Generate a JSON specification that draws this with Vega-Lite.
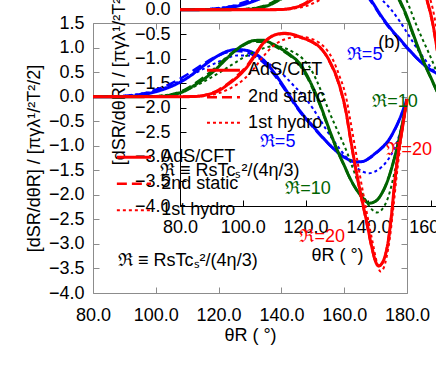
{
  "$schema": "https://vega.github.io/schema/vega-lite/v6.json",
  "width": 314,
  "height": 270,
  "autosize": {"type": "none"},
  "padding": {"left": 93, "top": 23, "right": 29, "bottom": 81},
  "background": "white",
  "config": {
    "font": "Liberation Sans",
    "view": {"stroke": null},
    "axis": {"grid": false, "labelFontSize": 18, "titleFontSize": 18, "titleFontWeight": "normal", "labelColor": "#000000", "titleColor": "#000000", "labelFlush": false, "labelOverlap": false, "tickWidth": 1, "domainWidth": 1},
    "text": {"fontSize": 18}
  },
  "datasets": {
    "curves": [
      {"R":"5","m":"AdS/CFT","t":80,"v":0},{"R":"5","m":"AdS/CFT","t":85,"v":0},{"R":"5","m":"AdS/CFT","t":90,"v":0.005},{"R":"5","m":"AdS/CFT","t":95,"v":0.03},{"R":"5","m":"AdS/CFT","t":100,"v":0.10},{"R":"5","m":"AdS/CFT","t":105,"v":0.21},{"R":"5","m":"AdS/CFT","t":110,"v":0.38},{"R":"5","m":"AdS/CFT","t":115,"v":0.62},{"R":"5","m":"AdS/CFT","t":120,"v":0.84},{"R":"5","m":"AdS/CFT","t":123,"v":0.93},{"R":"5","m":"AdS/CFT","t":126,"v":0.96},{"R":"5","m":"AdS/CFT","t":129,"v":0.94},{"R":"5","m":"AdS/CFT","t":132,"v":0.86},{"R":"5","m":"AdS/CFT","t":135,"v":0.70},{"R":"5","m":"AdS/CFT","t":138,"v":0.46},{"R":"5","m":"AdS/CFT","t":141,"v":0.18},{"R":"5","m":"AdS/CFT","t":144,"v":-0.12},{"R":"5","m":"AdS/CFT","t":147,"v":-0.38},{"R":"5","m":"AdS/CFT","t":150,"v":-0.60},{"R":"5","m":"AdS/CFT","t":153,"v":-0.82},{"R":"5","m":"AdS/CFT","t":156,"v":-1.02},{"R":"5","m":"AdS/CFT","t":159,"v":-1.19},{"R":"5","m":"AdS/CFT","t":162,"v":-1.30},{"R":"5","m":"AdS/CFT","t":164,"v":-1.33},{"R":"5","m":"AdS/CFT","t":166,"v":-1.32},{"R":"5","m":"AdS/CFT","t":168,"v":-1.25},{"R":"5","m":"AdS/CFT","t":170,"v":-1.15},{"R":"5","m":"AdS/CFT","t":172,"v":-1.04},{"R":"5","m":"AdS/CFT","t":174,"v":-0.90},{"R":"5","m":"AdS/CFT","t":176,"v":-0.68},{"R":"5","m":"AdS/CFT","t":178,"v":-0.40},{"R":"5","m":"AdS/CFT","t":180,"v":-0.05},
      {"R":"5","m":"2nd static","t":80,"v":0},{"R":"5","m":"2nd static","t":85,"v":0.005},{"R":"5","m":"2nd static","t":90,"v":0.015},{"R":"5","m":"2nd static","t":95,"v":0.05},{"R":"5","m":"2nd static","t":100,"v":0.14},{"R":"5","m":"2nd static","t":105,"v":0.27},{"R":"5","m":"2nd static","t":110,"v":0.45},{"R":"5","m":"2nd static","t":115,"v":0.66},{"R":"5","m":"2nd static","t":120,"v":0.84},{"R":"5","m":"2nd static","t":123,"v":0.91},{"R":"5","m":"2nd static","t":126,"v":0.93},{"R":"5","m":"2nd static","t":129,"v":0.90},{"R":"5","m":"2nd static","t":132,"v":0.81},{"R":"5","m":"2nd static","t":135,"v":0.65},{"R":"5","m":"2nd static","t":138,"v":0.42},{"R":"5","m":"2nd static","t":141,"v":0.15},{"R":"5","m":"2nd static","t":144,"v":-0.14},{"R":"5","m":"2nd static","t":147,"v":-0.40},{"R":"5","m":"2nd static","t":150,"v":-0.62},{"R":"5","m":"2nd static","t":153,"v":-0.83},{"R":"5","m":"2nd static","t":156,"v":-1.03},{"R":"5","m":"2nd static","t":159,"v":-1.19},{"R":"5","m":"2nd static","t":162,"v":-1.30},{"R":"5","m":"2nd static","t":164,"v":-1.33},{"R":"5","m":"2nd static","t":166,"v":-1.32},{"R":"5","m":"2nd static","t":168,"v":-1.26},{"R":"5","m":"2nd static","t":170,"v":-1.16},{"R":"5","m":"2nd static","t":172,"v":-1.05},{"R":"5","m":"2nd static","t":174,"v":-0.91},{"R":"5","m":"2nd static","t":176,"v":-0.69},{"R":"5","m":"2nd static","t":178,"v":-0.41},{"R":"5","m":"2nd static","t":180,"v":-0.05},
      {"R":"5","m":"1st hydro","t":80,"v":0},{"R":"5","m":"1st hydro","t":85,"v":0.005},{"R":"5","m":"1st hydro","t":90,"v":0.02},{"R":"5","m":"1st hydro","t":95,"v":0.06},{"R":"5","m":"1st hydro","t":100,"v":0.12},{"R":"5","m":"1st hydro","t":105,"v":0.24},{"R":"5","m":"1st hydro","t":110,"v":0.39},{"R":"5","m":"1st hydro","t":115,"v":0.56},{"R":"5","m":"1st hydro","t":120,"v":0.71},{"R":"5","m":"1st hydro","t":123,"v":0.79},{"R":"5","m":"1st hydro","t":126,"v":0.84},{"R":"5","m":"1st hydro","t":129,"v":0.84},{"R":"5","m":"1st hydro","t":132,"v":0.80},{"R":"5","m":"1st hydro","t":135,"v":0.71},{"R":"5","m":"1st hydro","t":138,"v":0.58},{"R":"5","m":"1st hydro","t":141,"v":0.42},{"R":"5","m":"1st hydro","t":144,"v":0.22},{"R":"5","m":"1st hydro","t":147,"v":0.02},{"R":"5","m":"1st hydro","t":150,"v":-0.24},{"R":"5","m":"1st hydro","t":153,"v":-0.54},{"R":"5","m":"1st hydro","t":156,"v":-0.84},{"R":"5","m":"1st hydro","t":159,"v":-1.10},{"R":"5","m":"1st hydro","t":162,"v":-1.33},{"R":"5","m":"1st hydro","t":164,"v":-1.45},{"R":"5","m":"1st hydro","t":166,"v":-1.53},{"R":"5","m":"1st hydro","t":168,"v":-1.56},{"R":"5","m":"1st hydro","t":170,"v":-1.52},{"R":"5","m":"1st hydro","t":172,"v":-1.43},{"R":"5","m":"1st hydro","t":174,"v":-1.28},{"R":"5","m":"1st hydro","t":176,"v":-1.05},{"R":"5","m":"1st hydro","t":178,"v":-0.68},{"R":"5","m":"1st hydro","t":180,"v":-0.08},
      {"R":"10","m":"AdS/CFT","t":80,"v":0},{"R":"10","m":"AdS/CFT","t":95,"v":0},{"R":"10","m":"AdS/CFT","t":100,"v":0.003},{"R":"10","m":"AdS/CFT","t":104,"v":0.015},{"R":"10","m":"AdS/CFT","t":107,"v":0.06},{"R":"10","m":"AdS/CFT","t":110,"v":0.14},{"R":"10","m":"AdS/CFT","t":113,"v":0.26},{"R":"10","m":"AdS/CFT","t":116,"v":0.39},{"R":"10","m":"AdS/CFT","t":119,"v":0.55},{"R":"10","m":"AdS/CFT","t":122,"v":0.74},{"R":"10","m":"AdS/CFT","t":125,"v":0.92},{"R":"10","m":"AdS/CFT","t":128,"v":1.06},{"R":"10","m":"AdS/CFT","t":131,"v":1.14},{"R":"10","m":"AdS/CFT","t":134,"v":1.15},{"R":"10","m":"AdS/CFT","t":137,"v":1.08},{"R":"10","m":"AdS/CFT","t":140,"v":0.97},{"R":"10","m":"AdS/CFT","t":143,"v":0.84},{"R":"10","m":"AdS/CFT","t":146,"v":0.66},{"R":"10","m":"AdS/CFT","t":148,"v":0.45},{"R":"10","m":"AdS/CFT","t":150,"v":0.19},{"R":"10","m":"AdS/CFT","t":152,"v":-0.10},{"R":"10","m":"AdS/CFT","t":154,"v":-0.45},{"R":"10","m":"AdS/CFT","t":156,"v":-0.80},{"R":"10","m":"AdS/CFT","t":158,"v":-1.12},{"R":"10","m":"AdS/CFT","t":160,"v":-1.40},{"R":"10","m":"AdS/CFT","t":162,"v":-1.68},{"R":"10","m":"AdS/CFT","t":164,"v":-1.90},{"R":"10","m":"AdS/CFT","t":166,"v":-2.07},{"R":"10","m":"AdS/CFT","t":168,"v":-2.17},{"R":"10","m":"AdS/CFT","t":170,"v":-2.13},{"R":"10","m":"AdS/CFT","t":172,"v":-1.97},{"R":"10","m":"AdS/CFT","t":174,"v":-1.68},{"R":"10","m":"AdS/CFT","t":176,"v":-1.25},{"R":"10","m":"AdS/CFT","t":178,"v":-0.72},{"R":"10","m":"AdS/CFT","t":180,"v":-0.05},
      {"R":"10","m":"2nd static","t":80,"v":0},{"R":"10","m":"2nd static","t":95,"v":0.002},{"R":"10","m":"2nd static","t":100,"v":0.008},{"R":"10","m":"2nd static","t":104,"v":0.03},{"R":"10","m":"2nd static","t":107,"v":0.08},{"R":"10","m":"2nd static","t":110,"v":0.17},{"R":"10","m":"2nd static","t":113,"v":0.29},{"R":"10","m":"2nd static","t":116,"v":0.43},{"R":"10","m":"2nd static","t":119,"v":0.59},{"R":"10","m":"2nd static","t":122,"v":0.77},{"R":"10","m":"2nd static","t":125,"v":0.93},{"R":"10","m":"2nd static","t":128,"v":1.05},{"R":"10","m":"2nd static","t":131,"v":1.12},{"R":"10","m":"2nd static","t":134,"v":1.12},{"R":"10","m":"2nd static","t":137,"v":1.06},{"R":"10","m":"2nd static","t":140,"v":0.95},{"R":"10","m":"2nd static","t":143,"v":0.82},{"R":"10","m":"2nd static","t":146,"v":0.63},{"R":"10","m":"2nd static","t":148,"v":0.42},{"R":"10","m":"2nd static","t":150,"v":0.16},{"R":"10","m":"2nd static","t":152,"v":-0.13},{"R":"10","m":"2nd static","t":154,"v":-0.47},{"R":"10","m":"2nd static","t":156,"v":-0.82},{"R":"10","m":"2nd static","t":158,"v":-1.13},{"R":"10","m":"2nd static","t":160,"v":-1.41},{"R":"10","m":"2nd static","t":162,"v":-1.69},{"R":"10","m":"2nd static","t":164,"v":-1.91},{"R":"10","m":"2nd static","t":166,"v":-2.08},{"R":"10","m":"2nd static","t":168,"v":-2.17},{"R":"10","m":"2nd static","t":170,"v":-2.13},{"R":"10","m":"2nd static","t":172,"v":-1.97},{"R":"10","m":"2nd static","t":174,"v":-1.68},{"R":"10","m":"2nd static","t":176,"v":-1.25},{"R":"10","m":"2nd static","t":178,"v":-0.72},{"R":"10","m":"2nd static","t":180,"v":-0.05},
      {"R":"10","m":"1st hydro","t":80,"v":0},{"R":"10","m":"1st hydro","t":95,"v":0.003},{"R":"10","m":"1st hydro","t":100,"v":0.012},{"R":"10","m":"1st hydro","t":104,"v":0.04},{"R":"10","m":"1st hydro","t":108,"v":0.10},{"R":"10","m":"1st hydro","t":112,"v":0.20},{"R":"10","m":"1st hydro","t":116,"v":0.33},{"R":"10","m":"1st hydro","t":120,"v":0.48},{"R":"10","m":"1st hydro","t":124,"v":0.64},{"R":"10","m":"1st hydro","t":128,"v":0.80},{"R":"10","m":"1st hydro","t":132,"v":0.93},{"R":"10","m":"1st hydro","t":135,"v":1.00},{"R":"10","m":"1st hydro","t":138,"v":1.03},{"R":"10","m":"1st hydro","t":141,"v":0.99},{"R":"10","m":"1st hydro","t":144,"v":0.90},{"R":"10","m":"1st hydro","t":147,"v":0.76},{"R":"10","m":"1st hydro","t":149,"v":0.60},{"R":"10","m":"1st hydro","t":151,"v":0.36},{"R":"10","m":"1st hydro","t":153,"v":0.06},{"R":"10","m":"1st hydro","t":155,"v":-0.27},{"R":"10","m":"1st hydro","t":157,"v":-0.57},{"R":"10","m":"1st hydro","t":159,"v":-0.85},{"R":"10","m":"1st hydro","t":161,"v":-1.15},{"R":"10","m":"1st hydro","t":163,"v":-1.50},{"R":"10","m":"1st hydro","t":165,"v":-1.85},{"R":"10","m":"1st hydro","t":167,"v":-2.13},{"R":"10","m":"1st hydro","t":169,"v":-2.31},{"R":"10","m":"1st hydro","t":170.5,"v":-2.36},{"R":"10","m":"1st hydro","t":172,"v":-2.30},{"R":"10","m":"1st hydro","t":174,"v":-2.05},{"R":"10","m":"1st hydro","t":176,"v":-1.55},{"R":"10","m":"1st hydro","t":178,"v":-0.88},{"R":"10","m":"1st hydro","t":180,"v":-0.06},
      {"R":"20","m":"AdS/CFT","t":80,"v":0},{"R":"20","m":"AdS/CFT","t":110,"v":0},{"R":"20","m":"AdS/CFT","t":114,"v":0.01},{"R":"20","m":"AdS/CFT","t":117,"v":0.05},{"R":"20","m":"AdS/CFT","t":120,"v":0.12},{"R":"20","m":"AdS/CFT","t":123,"v":0.25},{"R":"20","m":"AdS/CFT","t":126,"v":0.40},{"R":"20","m":"AdS/CFT","t":129,"v":0.60},{"R":"20","m":"AdS/CFT","t":132,"v":0.88},{"R":"20","m":"AdS/CFT","t":134,"v":1.07},{"R":"20","m":"AdS/CFT","t":136,"v":1.19},{"R":"20","m":"AdS/CFT","t":138,"v":1.26},{"R":"20","m":"AdS/CFT","t":141,"v":1.29},{"R":"20","m":"AdS/CFT","t":144,"v":1.26},{"R":"20","m":"AdS/CFT","t":147,"v":1.19},{"R":"20","m":"AdS/CFT","t":150,"v":1.11},{"R":"20","m":"AdS/CFT","t":152,"v":1.02},{"R":"20","m":"AdS/CFT","t":154,"v":0.87},{"R":"20","m":"AdS/CFT","t":156,"v":0.64},{"R":"20","m":"AdS/CFT","t":157.5,"v":0.42},{"R":"20","m":"AdS/CFT","t":159,"v":0.12},{"R":"20","m":"AdS/CFT","t":160.5,"v":-0.28},{"R":"20","m":"AdS/CFT","t":162,"v":-0.85},{"R":"20","m":"AdS/CFT","t":163.5,"v":-1.40},{"R":"20","m":"AdS/CFT","t":165,"v":-1.90},{"R":"20","m":"AdS/CFT","t":167,"v":-2.50},{"R":"20","m":"AdS/CFT","t":169,"v":-3.12},{"R":"20","m":"AdS/CFT","t":170,"v":-3.36},{"R":"20","m":"AdS/CFT","t":171,"v":-3.45},{"R":"20","m":"AdS/CFT","t":172,"v":-3.40},{"R":"20","m":"AdS/CFT","t":173,"v":-3.25},{"R":"20","m":"AdS/CFT","t":174,"v":-2.95},{"R":"20","m":"AdS/CFT","t":175,"v":-2.45},{"R":"20","m":"AdS/CFT","t":176,"v":-1.80},{"R":"20","m":"AdS/CFT","t":177,"v":-1.25},{"R":"20","m":"AdS/CFT","t":178.5,"v":-0.65},{"R":"20","m":"AdS/CFT","t":180,"v":-0.05},
      {"R":"20","m":"2nd static","t":80,"v":0},{"R":"20","m":"2nd static","t":110,"v":0.003},{"R":"20","m":"2nd static","t":114,"v":0.015},{"R":"20","m":"2nd static","t":117,"v":0.06},{"R":"20","m":"2nd static","t":120,"v":0.14},{"R":"20","m":"2nd static","t":123,"v":0.27},{"R":"20","m":"2nd static","t":126,"v":0.43},{"R":"20","m":"2nd static","t":129,"v":0.63},{"R":"20","m":"2nd static","t":132,"v":0.90},{"R":"20","m":"2nd static","t":134,"v":1.08},{"R":"20","m":"2nd static","t":136,"v":1.19},{"R":"20","m":"2nd static","t":138,"v":1.25},{"R":"20","m":"2nd static","t":141,"v":1.28},{"R":"20","m":"2nd static","t":144,"v":1.25},{"R":"20","m":"2nd static","t":147,"v":1.18},{"R":"20","m":"2nd static","t":150,"v":1.10},{"R":"20","m":"2nd static","t":152,"v":1.01},{"R":"20","m":"2nd static","t":154,"v":0.86},{"R":"20","m":"2nd static","t":156,"v":0.62},{"R":"20","m":"2nd static","t":157.5,"v":0.40},{"R":"20","m":"2nd static","t":159,"v":0.10},{"R":"20","m":"2nd static","t":160.5,"v":-0.30},{"R":"20","m":"2nd static","t":162,"v":-0.88},{"R":"20","m":"2nd static","t":163.5,"v":-1.43},{"R":"20","m":"2nd static","t":165,"v":-1.93},{"R":"20","m":"2nd static","t":167,"v":-2.53},{"R":"20","m":"2nd static","t":169,"v":-3.14},{"R":"20","m":"2nd static","t":170,"v":-3.37},{"R":"20","m":"2nd static","t":171,"v":-3.45},{"R":"20","m":"2nd static","t":172,"v":-3.40},{"R":"20","m":"2nd static","t":173,"v":-3.25},{"R":"20","m":"2nd static","t":174,"v":-2.95},{"R":"20","m":"2nd static","t":175,"v":-2.45},{"R":"20","m":"2nd static","t":176,"v":-1.80},{"R":"20","m":"2nd static","t":177,"v":-1.25},{"R":"20","m":"2nd static","t":178.5,"v":-0.65},{"R":"20","m":"2nd static","t":180,"v":-0.05},
      {"R":"20","m":"1st hydro","t":80,"v":0},{"R":"20","m":"1st hydro","t":112,"v":0},{"R":"20","m":"1st hydro","t":116,"v":0.02},{"R":"20","m":"1st hydro","t":120,"v":0.07},{"R":"20","m":"1st hydro","t":124,"v":0.18},{"R":"20","m":"1st hydro","t":128,"v":0.35},{"R":"20","m":"1st hydro","t":131,"v":0.55},{"R":"20","m":"1st hydro","t":134,"v":0.80},{"R":"20","m":"1st hydro","t":137,"v":1.01},{"R":"20","m":"1st hydro","t":140,"v":1.14},{"R":"20","m":"1st hydro","t":143,"v":1.20},{"R":"20","m":"1st hydro","t":146,"v":1.22},{"R":"20","m":"1st hydro","t":149,"v":1.19},{"R":"20","m":"1st hydro","t":152,"v":1.10},{"R":"20","m":"1st hydro","t":154.5,"v":0.95},{"R":"20","m":"1st hydro","t":156.5,"v":0.74},{"R":"20","m":"1st hydro","t":158.5,"v":0.42},{"R":"20","m":"1st hydro","t":160.5,"v":0.02},{"R":"20","m":"1st hydro","t":162,"v":-0.50},{"R":"20","m":"1st hydro","t":163.5,"v":-1.05},{"R":"20","m":"1st hydro","t":165,"v":-1.60},{"R":"20","m":"1st hydro","t":167,"v":-2.30},{"R":"20","m":"1st hydro","t":169,"v":-2.95},{"R":"20","m":"1st hydro","t":170.5,"v":-3.40},{"R":"20","m":"1st hydro","t":171.5,"v":-3.56},{"R":"20","m":"1st hydro","t":172.5,"v":-3.50},{"R":"20","m":"1st hydro","t":173.5,"v":-3.27},{"R":"20","m":"1st hydro","t":174.5,"v":-2.90},{"R":"20","m":"1st hydro","t":175.5,"v":-2.35},{"R":"20","m":"1st hydro","t":177,"v":-1.45},{"R":"20","m":"1st hydro","t":178.5,"v":-0.70},{"R":"20","m":"1st hydro","t":180,"v":-0.05}
    ],
    "rlab": [
      {"R":"5","label":"ℜ=5","t":138.8,"v":-0.93},
      {"R":"10","label":"ℜ=10","t":148.5,"v":-1.88},
      {"R":"20","label":"ℜ=20","t":153,"v":-2.85}
    ],
    "legline": [
      {"m":"AdS/CFT","t":116.3,"t2":126.8,"v":0.54},
      {"m":"2nd static","t":116.3,"t2":126.8,"v":-0.01},
      {"m":"1st hydro","t":116.3,"t2":126.8,"v":-0.53},
      {"m":"AdS/CFT","t":87.6,"t2":98.5,"v":-1.235},
      {"m":"2nd static","t":87.6,"t2":98.5,"v":-1.776},
      {"m":"1st hydro","t":87.6,"t2":98.5,"v":-2.316}
    ],
    "legtext": [
      {"label":"AdS/CFT","t":129.4,"v":0.54},
      {"label":"2nd static","t":129.4,"v":-0.01},
      {"label":"1st hydro","t":129.4,"v":-0.53},
      {"label":"AdS/CFT","t":101.7,"v":-1.235},
      {"label":"2nd static","t":101.7,"v":-1.776},
      {"label":"1st hydro","t":101.7,"v":-2.316}
    ]
  },
  "resolve": {"scale": {"x": "independent", "y": "independent"}},
  "layer": [
    {
      "data": {"name": "curves"},
      "mark": {"type": "line", "opacity": 0},
      "encoding": {
        "x": {"field": "t", "type": "quantitative", "scale": {"domain": [80, 180], "nice": false, "zero": false},
              "axis": {"orient": "top", "values": [80,100,120,140,160,180], "labels": false, "title": null, "tickSize": -6, "domainColor": "#8c8c8c", "tickColor": "#8c8c8c"}},
        "y": {"field": "v", "type": "quantitative", "scale": {"domain": [-4, 1.5], "nice": false, "zero": false},
              "axis": {"orient": "right", "values": [-4,-3.5,-3,-2.5,-2,-1.5,-1,-0.5,0,0.5,1,1.5], "labels": false, "title": null, "tickSize": -6, "domainColor": "#8c8c8c", "tickColor": "#8c8c8c"}},
        "detail": {"field": "R"}
      }
    },
    {
      "encoding": {
        "x": {"field": "t", "type": "quantitative", "scale": {"domain": [80, 180], "nice": false, "zero": false},
              "axis": {"orient": "bottom", "values": [80,100,120,140,160,180], "format": ".1f", "title": "θR ( °)", "tickSize": -6, "labelPadding": 19, "titlePadding": 2, "domainColor": "#8c8c8c", "tickColor": "#8c8c8c"}},
        "y": {"field": "v", "type": "quantitative", "scale": {"domain": [-4, 1.5], "nice": false, "zero": false},
              "axis": {"orient": "left", "values": [-4,-3.5,-3,-2.5,-2,-1.5,-1,-0.5,0,0.5,1,1.5], "format": ".1f", "title": "[dSR/dθR] / [πγλ¹/²T²/2]", "tickSize": -6, "labelPadding": 15, "titlePadding": 5, "domainColor": "#8c8c8c", "tickColor": "#8c8c8c"}}
      },
      "layer": [
        {
          "data": {"name": "curves"},
          "mark": {"type": "line", "interpolate": "monotone"},
          "encoding": {
            "color": {"field": "R", "type": "nominal", "scale": {"domain": ["5","10","20"], "range": ["#0000ff","#006400","#ff0000"]}, "legend": null},
            "strokeDash": {"field": "m", "type": "nominal", "scale": {"domain": ["AdS/CFT","2nd static","1st hydro"], "range": [[1,0],[10,5],[3,3]]}, "legend": null},
            "strokeWidth": {"field": "m", "type": "nominal", "scale": {"type": "ordinal", "domain": ["AdS/CFT","2nd static","1st hydro"], "range": [3,2.5,2]}, "legend": null}
          }
        },
        {
          "data": {"name": "legline"},
          "mark": {"type": "rule", "color": "#ff0000"},
          "encoding": {
            "x2": {"field": "t2"},
            "strokeDash": {"field": "m", "type": "nominal", "scale": {"domain": ["AdS/CFT","2nd static","1st hydro"], "range": [[1,0],[10,5],[3,3]]}, "legend": null},
            "strokeWidth": {"field": "m", "type": "nominal", "scale": {"type": "ordinal", "domain": ["AdS/CFT","2nd static","1st hydro"], "range": [3,2.5,2]}, "legend": null}
          }
        },
        {
          "data": {"name": "legtext"},
          "mark": {"type": "text", "align": "left", "baseline": "middle", "fontSize": 18, "color": "#000000"},
          "encoding": {"text": {"field": "label"}}
        },
        {
          "data": {"name": "rlab"},
          "mark": {"type": "text", "align": "center", "baseline": "middle", "fontSize": 18},
          "encoding": {
            "text": {"field": "label"},
            "color": {"field": "R", "type": "nominal", "scale": {"domain": ["5","10","20"], "range": ["#0000ff","#006400","#ff0000"]}, "legend": null}
          }
        },
        {
          "data": {"values": [{"label": "ℜ ≡ RsTcₛ²/(4η/3)", "t": 88, "v": -3.34}]},
          "mark": {"type": "text", "align": "left", "baseline": "middle", "fontSize": 18, "color": "#000000"},
          "encoding": {"text": {"field": "label"}}
        }
      ]
    },
    {
      "encoding": {
        "x": {"field": "t", "type": "quantitative", "scale": {"domain": [80, 180], "range": [87, 401], "nice": false, "zero": false},
              "axis": {"orient": "bottom", "offset": -87, "values": [80,100,120,140,160,180], "format": ".1f", "title": "θR ( °)", "tickSize": -6, "labelPadding": 18, "titlePadding": 10, "domainColor": "#000000", "tickColor": "#000000"}},
        "y": {"field": "v", "type": "quantitative", "scale": {"domain": [-4, 1.5], "range": [183, -87], "nice": false, "zero": false},
              "axis": {"orient": "left", "offset": -87, "values": [-4,-3.5,-3,-2.5,-2,-1.5,-1,-0.5,0,0.5,1,1.5], "format": ".1f", "title": "[dSR/dθR] / [πγλ¹/²T²/2]", "tickSize": -6, "labelPadding": 16, "titlePadding": 6, "domainColor": "#000000", "tickColor": "#000000"}}
      },
      "layer": [
        {
          "data": {"name": "curves"},
          "mark": {"type": "line", "interpolate": "monotone"},
          "encoding": {
            "color": {"field": "R", "type": "nominal", "scale": {"domain": ["5","10","20"], "range": ["#0000ff","#006400","#ff0000"]}, "legend": null},
            "strokeDash": {"field": "m", "type": "nominal", "scale": {"domain": ["AdS/CFT","2nd static","1st hydro"], "range": [[1,0],[10,5],[3,3]]}, "legend": null},
            "strokeWidth": {"field": "m", "type": "nominal", "scale": {"type": "ordinal", "domain": ["AdS/CFT","2nd static","1st hydro"], "range": [3,2.5,2]}, "legend": null}
          }
        },
        {
          "data": {"name": "rlab"},
          "mark": {"type": "text", "align": "center", "baseline": "middle", "fontSize": 18},
          "encoding": {
            "text": {"field": "label"},
            "color": {"field": "R", "type": "nominal", "scale": {"domain": ["5","10","20"], "range": ["#0000ff","#006400","#ff0000"]}, "legend": null}
          }
        },
        {
          "data": {"values": [{"label": "ℜ ≡ RsTcₛ²/(4η/3)", "t": 73.6, "v": -3.29}, {"label": "(b)", "t": 143.1, "v": -0.67}]},
          "mark": {"type": "text", "align": "left", "baseline": "middle", "fontSize": 18, "color": "#000000"},
          "encoding": {"text": {"field": "label"}}
        }
      ]
    }
  ]
}
